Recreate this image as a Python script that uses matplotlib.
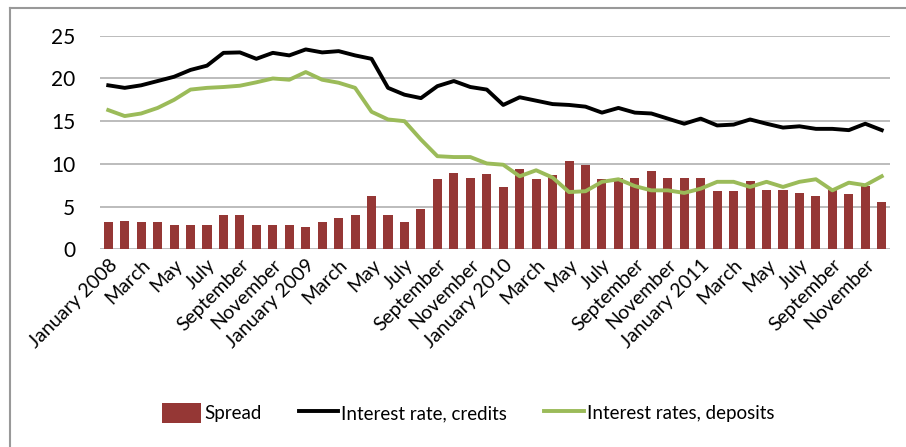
import numpy as np
import matplotlib
matplotlib.use("Agg")
import matplotlib.pyplot as plt
from matplotlib.lines import Line2D

plt.rcParams['font.family'] = ['Lato', 'DejaVu Sans']

# monthly data, January 2008 - December 2011
months = ["January 2008", "February", "March", "April", "May", "June", "July", "August",
          "September", "October", "November", "December",
          "January 2009", "February", "March", "April", "May", "June", "July", "August",
          "September", "October", "November", "December",
          "January 2010", "February", "March", "April", "May", "June", "July", "August",
          "September", "October", "November", "December",
          "January 2011", "February", "March", "April", "May", "June", "July", "August",
          "September", "October", "November", "December"]

spread = [3.2, 3.3, 3.2, 3.2, 2.9, 2.8, 2.8, 4.0, 4.0, 2.9, 2.9, 2.8,
          2.65, 3.2, 3.7, 4.0, 6.2, 4.0, 3.2, 4.7, 8.25, 8.9, 8.4, 8.8,
          7.3, 9.35, 8.25, 8.7, 10.3, 9.9, 8.25, 8.4, 8.4, 9.2, 8.4, 8.4,
          8.4, 6.8, 6.8, 8.0, 6.9, 6.9, 6.6, 6.2, 6.9, 6.5, 7.4, 5.5]

credits = [19.2, 18.9, 19.2, 19.7, 20.2, 21.0, 21.5, 23.0, 23.05, 22.3, 23.0, 22.7,
           23.4, 23.05, 23.2, 22.7, 22.3, 18.9, 18.1, 17.7, 19.1, 19.7, 19.0, 18.7,
           16.9, 17.8, 17.4, 17.0, 16.9, 16.7, 16.0, 16.55, 16.0, 15.9, 15.3, 14.7,
           15.3, 14.5, 14.6, 15.2, 14.7, 14.25, 14.4, 14.1, 14.1, 13.95, 14.7, 13.95]

deposits = [16.3, 15.6, 15.9, 16.55, 17.5, 18.7, 18.9, 19.0, 19.15, 19.55, 20.0, 19.85,
            20.75, 19.85, 19.5, 18.9, 16.1, 15.2, 15.0, 12.85, 10.9, 10.8, 10.8, 10.05,
            9.9, 8.55, 9.25, 8.4, 6.7, 6.8, 7.9, 8.2, 7.4, 6.9, 6.9, 6.6,
            7.1, 7.9, 7.9, 7.3, 7.9, 7.3, 7.9, 8.2, 6.9, 7.8, 7.5, 8.55]

x = np.arange(len(months))

fig = plt.figure(figsize=(9.06, 4.47), dpi=100)
ax = fig.add_axes([0.1104, 0.4423, 0.8719, 0.4777])

bars = ax.bar(x, spread, width=0.55, color='#953735', label='Spread', zorder=2)
l1, = ax.plot(x, credits, color='black', lw=2.8, label='Interest rate, credits', zorder=3)
l2, = ax.plot(x, deposits, color='#9BBB59', lw=2.8, label='Interest rates, deposits', zorder=3)

ax.set_xlim(-0.5, len(months) - 0.5)
ax.set_ylim(0, 25)
ax.set_yticks([0, 5, 10, 15, 20, 25])
ax.yaxis.grid(True, color='#B0B0B0', lw=1.2)
ax.set_axisbelow(True)
for s in ax.spines.values():
    s.set_visible(False)
ax.tick_params(axis='y', length=0, pad=18, labelsize=15)
ax.tick_params(axis='x', length=0, pad=5, labelsize=14)
ax.set_xticks(x[::2])
ax.set_xticklabels(months[::2], rotation=45, ha='right', rotation_mode='anchor')

ax.legend(handles=[bars, l1, l2], loc='center', bbox_to_anchor=(468 / 906, 1 - 413 / 447),
          bbox_transform=fig.transFigure, ncol=3, frameon=False, fontsize=13.5,
          handlelength=2.1, handleheight=1.3, handletextpad=0.15, columnspacing=2.0)

# outer frame (left and top edges)
fig.add_artist(Line2D([10 / 906, 10 / 906], [0, 1 - 8 / 447], color='#999999', lw=1.5))
fig.add_artist(Line2D([10 / 906, 1], [1 - 8 / 447, 1 - 8 / 447], color='#999999', lw=1.5))

fig.savefig('out.png', dpi=100)
